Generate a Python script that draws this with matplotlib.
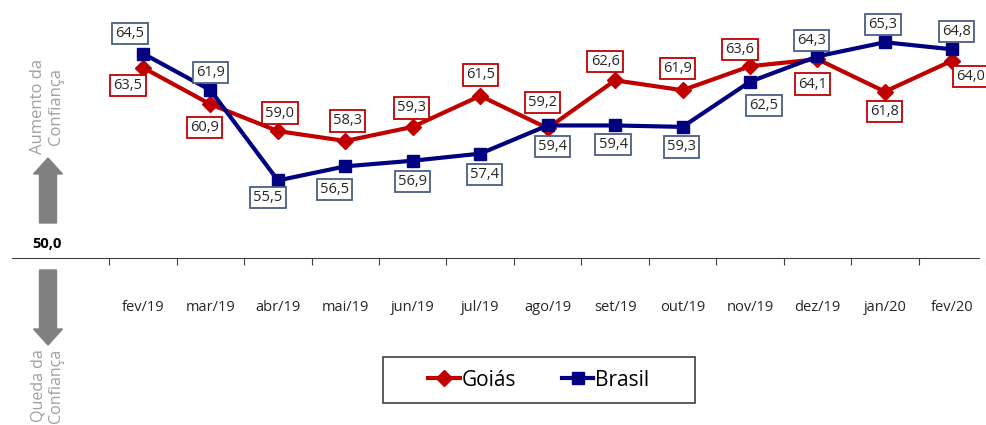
import matplotlib
matplotlib.use("Agg")
import matplotlib.pyplot as plt
from matplotlib.patches import FancyArrow, Rectangle
from matplotlib.lines import Line2D

# -------- Données --------
meses = ["fev/19", "mar/19", "abr/19", "mai/19", "jun/19", "jul/19", "ago/19",
         "set/19", "out/19", "nov/19", "dez/19", "jan/20", "fev/20"]
goias = [63.5, 60.9, 59.0, 58.3, 59.3, 61.5, 59.2, 62.6, 61.9, 63.6, 64.1, 61.8, 64.0]
brasil = [64.5, 61.9, 55.5, 56.5, 56.9, 57.4, 59.4, 59.4, 59.3, 62.5, 64.3, 65.3, 64.8]

# décalage des étiquettes (pixels, y vers le bas)
off_goias = [(-15, 18), (-6, 23), (2, -18), (2, -20), (-1, -19), (0, -21), (-5, -26),
             (-10, -19), (-5, -22), (-10, -17), (-5, 25), (0, 20), (18, 16)]
off_brasil = [(-13, -20), (0, -18), (-10, 17), (-11, 23), (0, 21), (4, 21), (5, 21),
              (-2, 19), (-1, 20), (14, 24), (-6, -16), (-2, -18), (4, -18)]

VERMELHO = "#C00000"
AZUL = "#000080"
CINZA = "#808080"

plt.rcParams['font.family'] = ['Open Sans', 'DejaVu Sans']

W, H = 986, 425
fig = plt.figure(figsize=(W / 100, H / 100), dpi=100)

# axes principal, couvre toute la figure
ax = fig.add_axes([0, 0, 1, 1])
x0, dx = 144, 67.9
y50, sy = 258, 14.1
ax.set_xlim(-x0 / dx, (W - x0) / dx)
ax.set_ylim(50 - (H - y50) / sy, 50 + y50 / sy)
ax.set_facecolor("none")

xs = list(range(len(meses)))
ax.plot(xs, goias, color=VERMELHO, lw=3, marker="D", ms=8, zorder=3)
ax.plot(xs, brasil, color=AZUL, lw=3, marker="s", ms=9, zorder=4)

def etiquetas(vals, offs, cor_borda):
    for i, (v, (ox, oy)) in enumerate(zip(vals, offs)):
        ax.annotate(f"{v:.1f}".replace(".", ","), (i, v),
                    xytext=(ox * 0.72, -oy * 0.72), textcoords="offset points",
                    ha="center", va="center", fontsize=10.5, color="#262626",
                    bbox=dict(boxstyle="square,pad=0.22", fc="white",
                              ec=cor_borda, lw=1.3), zorder=6)

etiquetas(goias, off_goias, VERMELHO)
etiquetas(brasil, off_brasil, "#4A6080")

# axe horizontal à 50
for s in ["top", "left", "right"]:
    ax.spines[s].set_visible(False)
ax.spines["bottom"].set_position(("data", 50))
ax.spines["bottom"].set_bounds((12 - x0) / dx, (W - x0) / dx)
ax.spines["bottom"].set_color("#404040")
ax.set_yticks([])
ax.set_xticks([i - 0.5 for i in range(len(meses) + 1)], labels=[])
ax.tick_params(axis="x", which="major", length=5, color="#404040", direction="out")
ax.set_xticks(xs, labels=meses, minor=True)
ax.tick_params(axis="x", which="minor", length=0, pad=30, labelsize=10.5,
               labelcolor="#262626")

# -------- Décorations en pixels --------
deco = fig.add_axes([0, 0, 1, 1])
deco.set_xlim(0, W)
deco.set_ylim(H, 0)
deco.axis("off")

deco.text(47, 244, "50,0", ha="center", va="center", fontsize=10.5,
          fontweight="bold", color="#000000")
deco.add_patch(FancyArrow(48, 223, 0, -65, width=17, head_width=29,
                          head_length=16, length_includes_head=True, color=CINZA))
deco.add_patch(FancyArrow(48, 270, 0, 75, width=17, head_width=29,
                          head_length=16, length_includes_head=True, color=CINZA))
deco.text(47, 106, "Aumento da\nConfiança", rotation=90, ha="center", va="center",
          multialignment="center", fontsize=12, color="#A0A0A0", linespacing=1.15)
deco.text(47, 386, "Queda da\nConfiança", rotation=90, ha="center", va="center",
          multialignment="center", fontsize=11.5, color="#A0A0A0", linespacing=1.15)

# légende
deco.add_patch(Rectangle((383, 357), 312, 46, fc="white", ec="#404040", lw=1.2))
poignees = [Line2D([], [], color=VERMELHO, lw=3, marker="D", ms=8),
            Line2D([], [], color=AZUL, lw=3, marker="s", ms=9)]
leg = deco.legend(poignees, ["Goiás", "Brasil"], loc="center",
                  bbox_to_anchor=(539 / W, 1 - 380 / H), bbox_transform=fig.transFigure,
                  ncol=2, frameon=False, fontsize=15, handlelength=1.5,
                  handletextpad=0.1, columnspacing=2.2)

fig.savefig("out.png", dpi=100)
